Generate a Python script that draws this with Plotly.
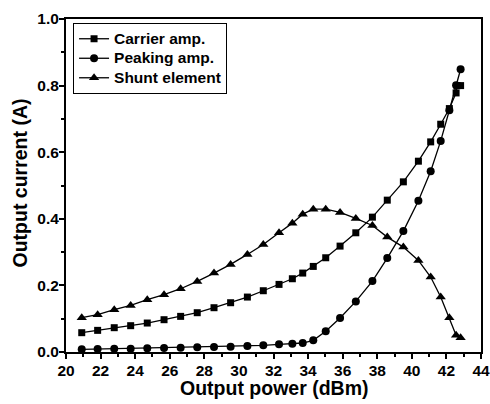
import plotly.graph_objects as go

# Shared output power points (dBm)
power = [20.91, 21.83, 22.79, 23.74, 24.70, 25.67, 26.63, 27.59, 28.56, 29.52,
         30.49, 31.41, 32.32, 33.09, 33.69, 34.30, 35.02, 35.85, 36.76, 37.72,
         38.58, 39.51, 40.38, 41.09, 41.67, 42.17, 42.56, 42.82]

carrier_power = power[:27] + [42.62, 42.82]
carrier = [0.058, 0.065, 0.073, 0.079, 0.087, 0.097, 0.107, 0.118, 0.133, 0.148,
           0.165, 0.184, 0.203, 0.220, 0.237, 0.257, 0.283, 0.318, 0.358, 0.405,
           0.456, 0.511, 0.573, 0.631, 0.684, 0.731, 0.778, 0.800, 0.800]

peaking = [0.008, 0.009, 0.010, 0.010, 0.011, 0.012, 0.013, 0.014, 0.015, 0.016,
           0.018, 0.020, 0.023, 0.025, 0.027, 0.035, 0.062, 0.102, 0.152, 0.213,
           0.282, 0.363, 0.454, 0.543, 0.634, 0.726, 0.801, 0.849]

shunt = [0.103, 0.112, 0.127, 0.140, 0.157, 0.172, 0.190, 0.212, 0.237, 0.263,
         0.293, 0.323, 0.358, 0.387, 0.414, 0.429, 0.429, 0.419, 0.401, 0.380,
         0.345, 0.315, 0.275, 0.225, 0.165, 0.103, 0.050, 0.043]

names = ["Carrier amp.", "Peaking amp.", "Shunt element"]
x_title = "Output power (dBm)"
y_title = "Output current (A)"

FONT = "Liberation Sans, Arial, sans-serif"


def legend_name(s):
    return "<span style='font-size:15.5px'>" + s + "</span>"


fig = go.Figure()
fig.add_trace(go.Scatter(x=carrier_power, y=carrier, mode="lines+markers",
                         name=legend_name(names[0]),
                         line=dict(color="black", width=1.3),
                         marker=dict(symbol="square", size=7, color="black")))
fig.add_trace(go.Scatter(x=power, y=peaking, mode="lines+markers",
                         name=legend_name(names[1]),
                         line=dict(color="black", width=1.3),
                         marker=dict(symbol="circle", size=8, color="black")))
fig.add_trace(go.Scatter(x=power, y=shunt, mode="lines+markers",
                         name=legend_name(names[2]),
                         line=dict(color="black", width=1.3),
                         marker=dict(symbol="triangle-up", size=9, color="black")))

axis_common = dict(
    showline=True, linecolor="black", linewidth=2, mirror=True,
    ticks="outside", ticklen=5, tickwidth=2, tickcolor="black",
    showgrid=False, zeroline=False, automargin=False,
    tickfont=dict(family=FONT, size=15.5, color="black", weight="bold"),
)

fig.update_xaxes(range=[20, 44], dtick=2, tick0=20, ticklabelstandoff=-2,
                 minor=dict(ticks="outside", dtick=1, ticklen=3, tickwidth=2, tickcolor="black"),
                 **axis_common)
fig.update_yaxes(range=[0, 1.0], dtick=0.2, tick0=0, tickformat=".1f", ticklabelstandoff=-3,
                 minor=dict(ticks="outside", dtick=0.1, ticklen=3, tickwidth=2, tickcolor="black"),
                 **axis_common)

title_font = dict(family=FONT, size=19.5, color="black", weight="bold")
fig.add_annotation(text=x_title, xref="paper", yref="paper", x=0.5, y=-0.108,
                   xanchor="center", yanchor="middle", showarrow=False, font=title_font)
fig.add_annotation(text=y_title, xref="paper", yref="paper", x=-0.11, y=0.507,
                   xanchor="center", yanchor="middle", textangle=-90,
                   showarrow=False, font=title_font)

fig.update_layout(
    width=490, height=404,
    margin=dict(l=66, r=9, t=19, b=52),
    paper_bgcolor="white", plot_bgcolor="white",
    showlegend=True,
    legend=dict(x=0.017, y=0.988, xanchor="left", yanchor="top",
                bgcolor="white", bordercolor="black", borderwidth=1,
                font=dict(family=FONT, size=12.7, color="black", weight="bold"),
                tracegroupgap=0, itemwidth=30),
)

fig.write_html("out.html")
